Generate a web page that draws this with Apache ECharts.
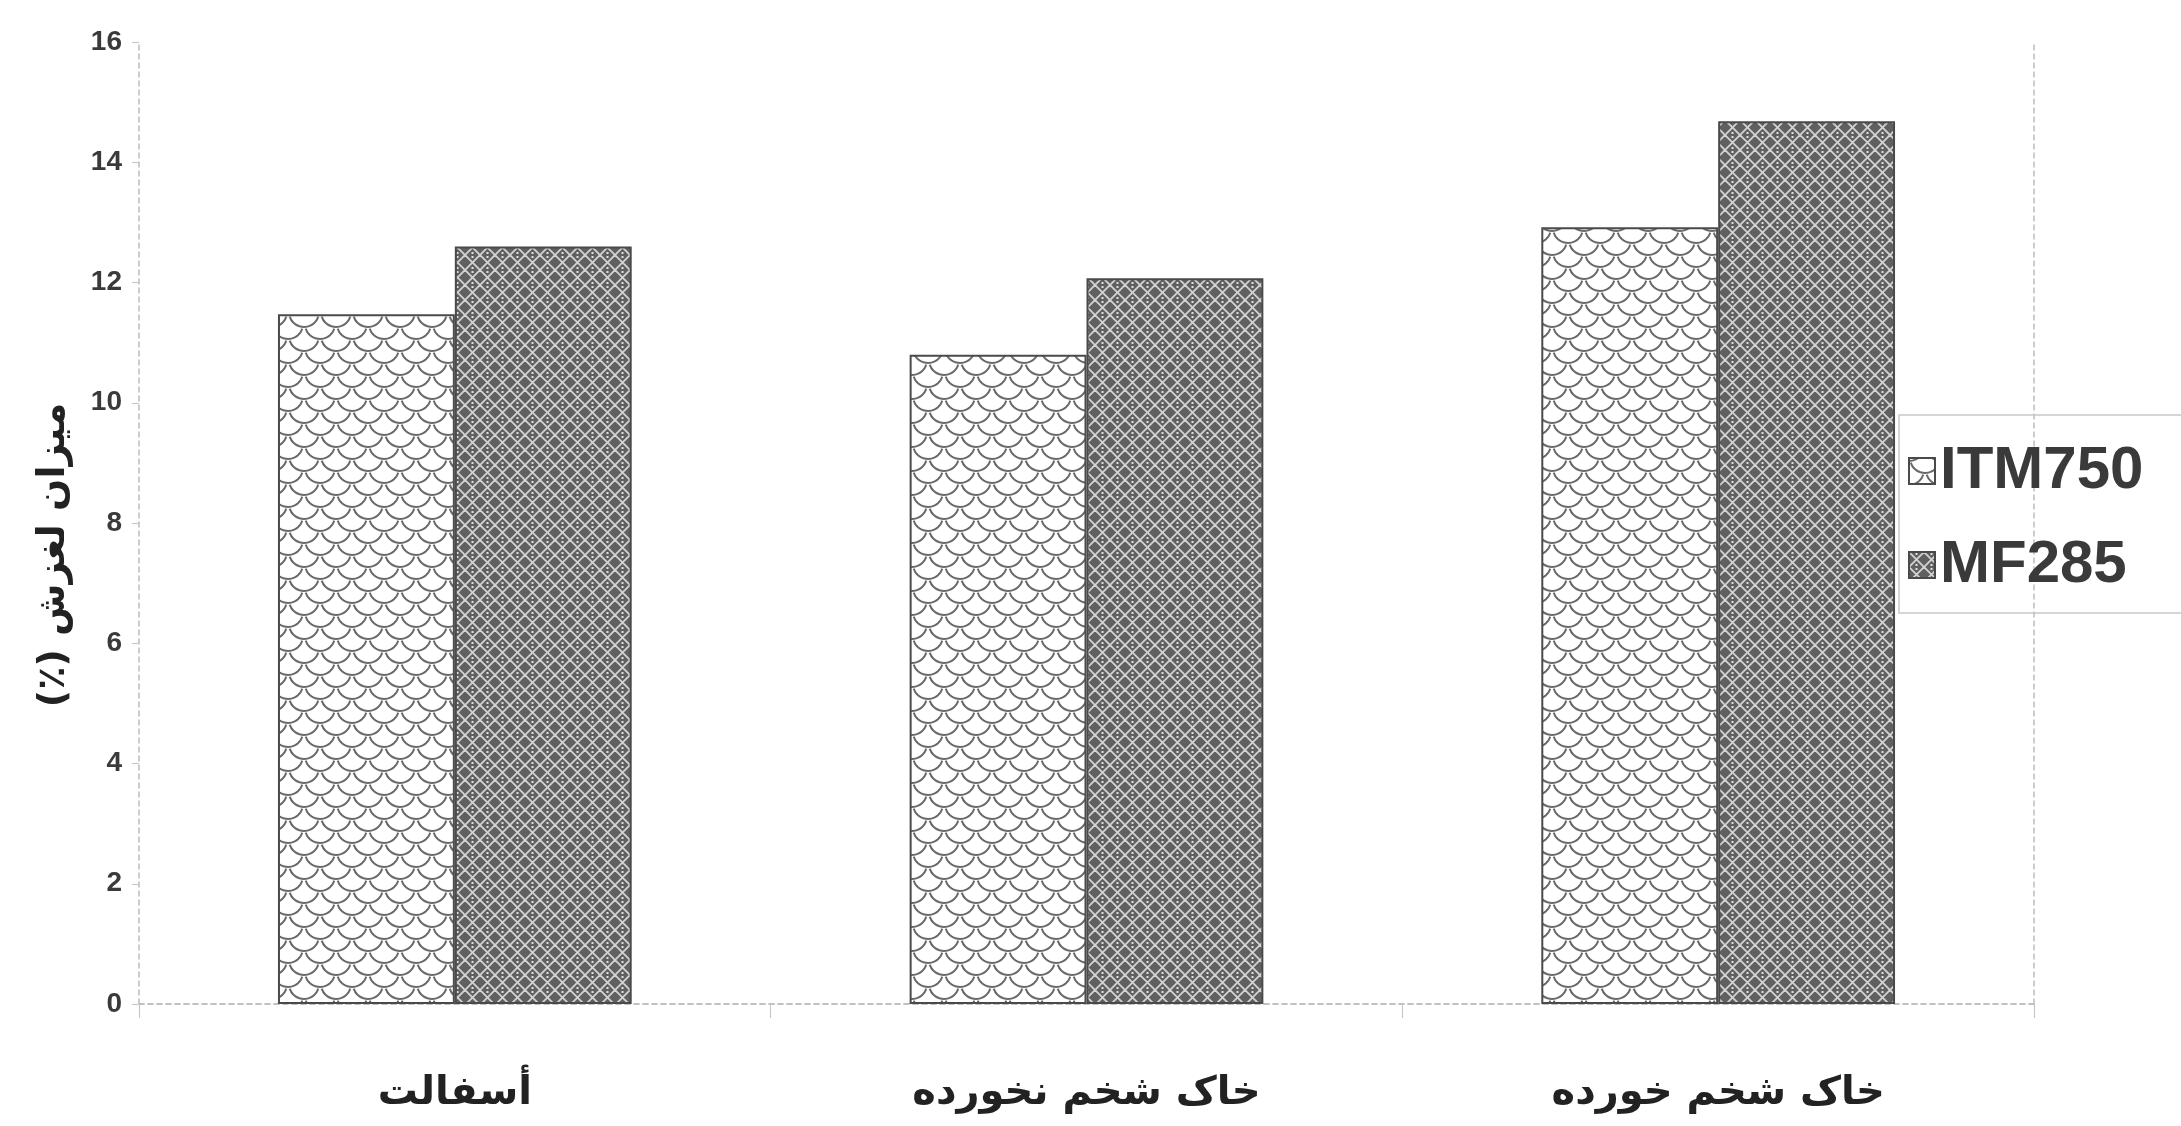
<!DOCTYPE html>
<html>
<head>
<meta charset="utf-8">
<script src="https://cdn.jsdelivr.net/npm/echarts@6/dist/echarts.min.js"></script>
<style>
html,body{margin:0;padding:0;background:#fff;}
#main{width:2181px;height:1126px;}
</style>
</head>
<body>
<div id="main"></div>
<script>
const categories = ['أسفالت', 'خاک شخم نخورده', 'خاک شخم خورده'];
const seriesNames = ['ITM750', 'MF285'];
const itm750 = [11.47, 10.8, 12.92];
const mf285 = [12.6, 12.07, 14.68];
const yTicks = { min: 0, max: 16, interval: 2 };
const yAxisName = '(٪) میزان لغزش';

function scalePattern() {
  const c = document.createElement('canvas');
  c.width = 32; c.height = 24;
  const g = c.getContext('2d');
  g.fillStyle = '#ffffff';
  g.fillRect(0, 0, 32, 24);
  g.strokeStyle = '#6a6a6a';
  g.lineWidth = 2;
  const arcs = [[16, 0], [0, 12], [32, 12], [16, 24], [0, -12], [32, -12], [0, 36], [32, 36]];
  arcs.forEach(([x, y]) => {
    g.beginPath();
    g.arc(x, y, 15, 0.1 * Math.PI, 0.9 * Math.PI);
    g.stroke();
  });
  return c;
}
function latticePattern() {
  const s = 15;
  const c = document.createElement('canvas');
  c.width = s; c.height = s;
  const g = c.getContext('2d');
  g.fillStyle = '#606060';
  g.fillRect(0, 0, s, s);
  g.strokeStyle = '#d4d4d4';
  g.lineWidth = 1.8;
  for (let k = -1; k <= 1; k++) {
    g.beginPath(); g.moveTo(k * s, 0); g.lineTo(k * s + s, s); g.stroke();
    g.beginPath(); g.moveTo(k * s + s, 0); g.lineTo(k * s, s); g.stroke();
  }
  g.fillStyle = '#e0e0e0';
  g.fillRect(s / 2 - 1, 1, 2, 2);
  g.fillRect(s / 2 - 1, s - 3, 2, 2);
  return c;
}

const chart = echarts.init(document.getElementById('main'), null, { renderer: 'canvas' });
const dash = { color: '#bdbdbd', width: 1.5, type: [5, 4] };
const option = {
  backgroundColor: '#ffffff',
  animation: false,
  grid: { left: 139, right: 147, top: 42, bottom: 122, containLabel: false },
  legend: {
    orient: 'vertical',
    left: 1899,
    top: 415,
    width: 282,
    padding: [26, 40, 18, 9],
    itemGap: 34,
    itemWidth: 26,
    itemHeight: 26,
    borderColor: '#c8c8c8',
    borderWidth: 1.5,
    icon: 'rect',
    data: seriesNames,
    textStyle: {
      fontFamily: '"Liberation Sans Narrow", "Liberation Sans", Arial, sans-serif',
      fontWeight: 'bold',
      fontSize: 60,
      color: '#3a3a3a',
      padding: [0, 0, 0, 0]
    }
  },
  xAxis: [{
    type: 'category',
    data: categories,
    axisLine: { show: true, lineStyle: dash },
    axisTick: { show: true, length: 14, lineStyle: { color: '#c8c8c8', width: 1.2 } },
    axisLabel: {
      margin: 70,
      fontFamily: '"DejaVu Sans", sans-serif',
      fontWeight: 'bold',
      fontSize: 40,
      color: '#222'
    },
    splitLine: { show: false }
  }, {
    type: 'category',
    position: 'top',
    data: categories,
    axisLine: { show: true, lineStyle: dash },
    axisTick: { show: false },
    axisLabel: { show: false }
  }],
  yAxis: [{
    type: 'value',
    min: yTicks.min,
    max: yTicks.max,
    interval: yTicks.interval,
    name: yAxisName,
    nameLocation: 'middle',
    nameRotate: 90,
    nameGap: 66,
    nameTextStyle: {
      fontFamily: '"DejaVu Sans", sans-serif',
      fontWeight: 'bold',
      fontSize: 38,
      color: '#222',
      padding: [0, 64, 0, 0]
    },
    axisLine: { show: true, lineStyle: dash },
    axisTick: { show: true, length: 7, lineStyle: { color: '#c8c8c8', width: 1.2 } },
    axisLabel: {
      margin: 17,
      fontFamily: '"Liberation Sans", Arial, sans-serif',
      fontWeight: 'bold',
      fontSize: 28,
      color: '#3a3a3a'
    },
    splitLine: { show: false }
  }, {
    type: 'value',
    position: 'right',
    min: yTicks.min,
    max: yTicks.max,
    interval: yTicks.interval,
    axisLine: { show: true, lineStyle: dash },
    axisTick: { show: false },
    axisLabel: { show: false },
    splitLine: { show: false }
  }],
  series: [{
    name: seriesNames[0],
    type: 'bar',
    data: itm750,
    barGap: '0%',
    barCategoryGap: '44%',
    itemStyle: {
      color: { image: scalePattern(), repeat: 'repeat' },
      borderColor: '#4a4a4a',
      borderWidth: 2
    }
  }, {
    name: seriesNames[1],
    type: 'bar',
    data: mf285,
    barGap: '0%',
    barCategoryGap: '44%',
    itemStyle: {
      color: { image: latticePattern(), repeat: 'repeat' },
      borderColor: '#4a4a4a',
      borderWidth: 2
    }
  }]
};
chart.setOption(option);
</script>
</body>
</html>
